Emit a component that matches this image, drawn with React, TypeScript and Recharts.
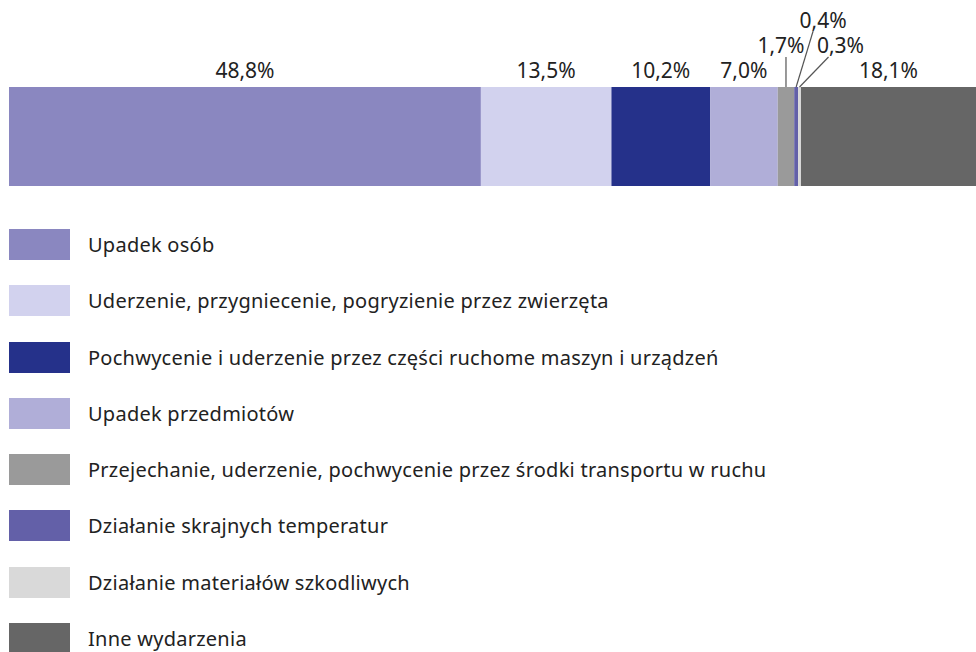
import React from "react";
import { BarChart, Bar, XAxis, YAxis, LabelList } from "recharts";

const categories = [
  "Upadek osób",
  "Uderzenie, przygniecenie, pogryzienie przez zwierzęta",
  "Pochwycenie i uderzenie przez części ruchome maszyn i urządzeń",
  "Upadek przedmiotów",
  "Przejechanie, uderzenie, pochwycenie przez środki transportu w ruchu",
  "Działanie skrajnych temperatur",
  "Działanie materiałów szkodliwych",
  "Inne wydarzenia",
];
const shares = [48.8, 13.5, 10.2, 7.0, 1.7, 0.4, 0.3, 18.1];
const colors = ["#8a87c0", "#d2d2ee", "#25318a", "#b0aed8", "#9a9a9a", "#6360a8", "#d9d9d9", "#666666"];

const data = [
  shares.reduce<Record<string, number | string>>((row, v, i) => {
    row["s" + i] = v;
    return row;
  }, { name: "total" }),
];

const FONT = "'Noto Sans', 'Open Sans', sans-serif";
const fmt = (v: number) => v.toFixed(1).replace(".", ",") + "%";

// label placement for the thin segments: text offset and leader line start
const callouts: Record<number, { dx: number; dy: number; lx: number; ly: number }> = {
  4: { dx: -5, dy: -34, lx: 0, ly: -30 },
  5: { dx: 27, dy: -59, lx: 17, ly: -56 },
  6: { dx: 41, dy: -34, lx: 29, ly: -30 },
};

function makeLabel(i: number) {
  return (props: any) => {
    const x = Number(props.x);
    const y = Number(props.y);
    const w = Number(props.width);
    const cx = x + w / 2;
    const c = callouts[i];
    if (!c) {
      return (
        <text x={cx} y={y - 9} textAnchor="middle" fontSize={21} fill="#222" fontFamily={FONT}>
          {fmt(Number(props.value))}
        </text>
      );
    }
    return (
      <g>
        <line x1={cx + c.lx} y1={y + c.ly} x2={cx} y2={y} stroke="#555" strokeWidth={1.2} />
        <text x={cx + c.dx} y={y + c.dy} textAnchor="middle" fontSize={21} fill="#222" fontFamily={FONT}>
          {fmt(Number(props.value))}
        </text>
      </g>
    );
  };
}

function LegendList() {
  return (
    <div style={{ fontFamily: FONT, position: "absolute", top: 229, left: 9 }}>
      {categories.map((c, i) => (
        <div key={c} style={{ height: 56.3, display: "flex", alignItems: "flex-start" }}>
          <div style={{ width: 61, height: 31, background: colors[i], flexShrink: 0 }} />
          <div
            style={{
              marginLeft: 18,
              fontSize: 20,
              letterSpacing: 0.25,
              lineHeight: "31px",
              color: "#222",
              whiteSpace: "nowrap",
            }}
          >
            {c}
          </div>
        </div>
      ))}
    </div>
  );
}

export default function App() {
  return (
    <div
      style={{
        position: "fixed",
        left: 0,
        top: 0,
        width: 976,
        height: 652,
        overflow: "hidden",
        background: "#fff",
      }}
    >
      <BarChart
        width={976}
        height={200}
        data={data}
        layout="vertical"
        margin={{ top: 87, right: 0, bottom: 14, left: 9 }}
        barCategoryGap={0}
      >
        <XAxis type="number" domain={[0, 100]} allowDataOverflow hide />
        <YAxis type="category" dataKey="name" hide />
        {shares.map((_, i) => (
          <Bar key={i} dataKey={"s" + i} stackId="a" fill={colors[i]} isAnimationActive={false}>
            <LabelList dataKey={"s" + i} content={makeLabel(i)} />
          </Bar>
        ))}
      </BarChart>
      <LegendList />
    </div>
  );
}
